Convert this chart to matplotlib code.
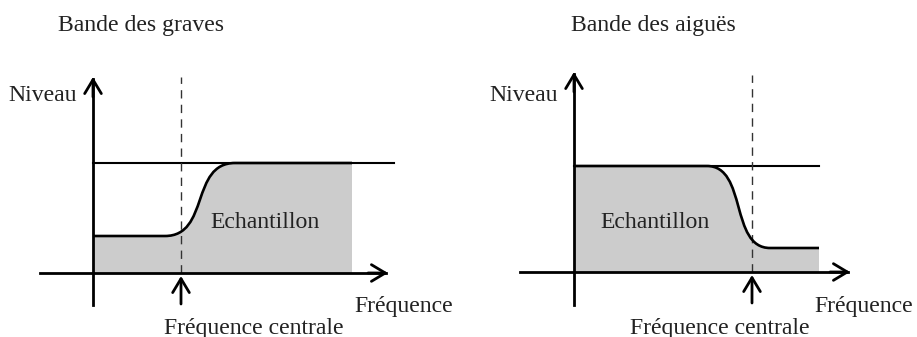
import matplotlib
matplotlib.use('Agg')
import matplotlib.pyplot as plt
from matplotlib.path import Path
from matplotlib.patches import PathPatch

plt.rcParams['font.family'] = ['Liberation Serif', 'DejaVu Serif']

# schematic values, one entry per panel (graves, aigues)
# units: pixels, origin at the crossing of the two axes
titres = ['Bande des graves', 'Bande des aiguës']
niveau_depart = [37, 106]      # level at the low frequency end
niveau_arrivee = [110, 24]     # level after the transition
niveau_haut = [110, 106]       # thin reference line
f_centrale = [88, 178]
trans_debut = [72, 133]
trans_fin = [142, 196]
f_fin_echantillon = [259, 245]
f_fin_ligne = [301, 245]
axe_x = [(-53, 295), (-54, 276)]
axe_y = [(-32, 196), (-33, 200)]
haut_pointilles = [196, 197]

gris = '#cccccc'
texte = '#222222'
fs = 17.1

fig = plt.figure(figsize=(9.17, 3.37), dpi=100)
# origin of each panel in figure pixels (x, y from top)
origines = [(93, 273), (574, 272)]
W, H = 917.0, 337.0

for i in range(2):
    ox, oy = origines[i]
    x0 = 0 if i == 0 else 458
    x1 = 458 if i == 0 else 917
    ax = fig.add_axes([x0 / W, 0, (x1 - x0) / W, 1])
    ax.set_xlim(x0 - ox, x1 - ox)
    ax.set_ylim(oy - H, oy)
    ax.axis('off')

    ya, yb = niveau_depart[i], niveau_arrivee[i]
    t0, t1 = trans_debut[i], trans_fin[i]
    k = 0.64 * (t1 - t0)
    fin = f_fin_echantillon[i]

    # sample area (filled)
    verts = [(0, 0), (0, ya), (t0, ya), (t0 + k, ya), (t1 - k, yb), (t1, yb),
             (fin, yb), (fin, 0), (0, 0)]
    codes = [Path.MOVETO, Path.LINETO, Path.LINETO, Path.CURVE4, Path.CURVE4,
             Path.CURVE4, Path.LINETO, Path.LINETO, Path.CLOSEPOLY]
    ax.add_patch(PathPatch(Path(verts, codes), facecolor=gris, edgecolor='none', zorder=1))

    # reference level line
    ax.plot([0, f_fin_ligne[i]], [niveau_haut[i], niveau_haut[i]], color='black', lw=1.5, zorder=2)

    # filter curve
    verts = [(0, ya), (t0, ya), (t0 + k, ya), (t1 - k, yb), (t1, yb), (fin, yb)]
    codes = [Path.MOVETO, Path.LINETO, Path.CURVE4, Path.CURVE4, Path.CURVE4, Path.LINETO]
    ax.add_patch(PathPatch(Path(verts, codes), facecolor='none', edgecolor='black',
                           lw=1.9, zorder=3, capstyle='butt'))

    # dashed centre frequency
    ax.plot([f_centrale[i], f_centrale[i]], [0, haut_pointilles[i]], color='#333333',
            lw=1.0, linestyle=(0, (6, 4.5)), zorder=2)

    arr = dict(arrowstyle='->,head_length=0.5,head_width=0.3', lw=2.0, color='black',
               shrinkA=0, shrinkB=0, mutation_scale=20)
    # axes
    ax.plot([0, 0], [axe_y[i][0], axe_y[i][1] - 2], color='black', lw=2.0, zorder=4)
    ax.annotate('', xy=(0, axe_y[i][1]), xytext=(0, axe_y[i][1] - 20), arrowprops=arr, zorder=4)
    ax.plot([axe_x[i][0], axe_x[i][1] - 2], [0, 0], color='black', lw=2.0, zorder=4)
    ax.annotate('', xy=(axe_x[i][1], 0), xytext=(axe_x[i][1] - 20, 0), arrowprops=arr, zorder=4)
    # small arrow for the centre frequency
    ax.annotate('', xy=(f_centrale[i], -3), xytext=(f_centrale[i], -31), arrowprops=arr, zorder=4)

    # texts
    if i == 0:
        ax.text(48, 242, titres[i], ha='center', va='baseline', fontsize=fs, color=texte)
        ax.text(-50, 172, 'Niveau', ha='center', va='baseline', fontsize=fs, color=texte)
        ax.text(172, 45, 'Echantillon', ha='center', va='baseline', fontsize=fs, color=texte)
        ax.text(311, -39, 'Fréquence', ha='center', va='baseline', fontsize=fs, color=texte, clip_on=False)
        ax.text(161, -61, 'Fréquence centrale', ha='center', va='baseline', fontsize=fs, color=texte)
    else:
        ax.text(79, 241, titres[i], ha='center', va='baseline', fontsize=fs, color=texte)
        ax.text(-50, 171, 'Niveau', ha='center', va='baseline', fontsize=fs, color=texte)
        ax.text(81, 44, 'Echantillon', ha='center', va='baseline', fontsize=fs, color=texte)
        ax.text(290, -40, 'Fréquence', ha='center', va='baseline', fontsize=fs, color=texte)
        ax.text(146, -62, 'Fréquence centrale', ha='center', va='baseline', fontsize=fs, color=texte)

fig.savefig('out.png', dpi=100)
